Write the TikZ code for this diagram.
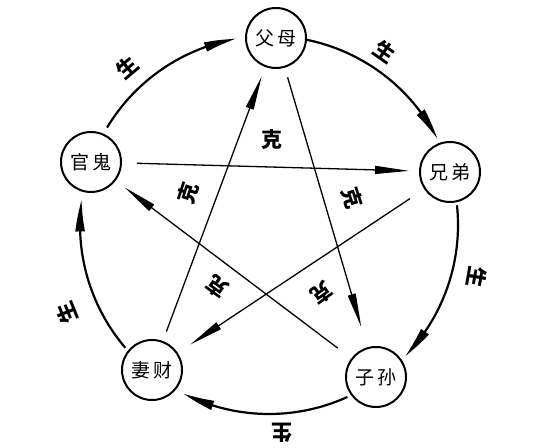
\documentclass[tikz,border=0pt]{standalone}
\usepackage{fontspec}
\newfontfamily\cjk{Noto Sans CJK SC}
\usetikzlibrary{arrows.meta,bending}
\begin{document}
\begin{tikzpicture}[x=1pt,y=1pt,
  member/.style={circle,draw,line width=2pt,minimum size=60pt,inner sep=0pt,outer sep=0pt,
    font=\cjk\fontsize{19}{19}\selectfont},
  sheng/.style={line width=2.2pt,-{Triangle[length=32pt,width=9pt,bend]}},
  ke/.style={line width=1.3pt,-{Triangle[length=34pt,width=8pt]}},
  lab/.style={font=\cjk\bfseries\fontsize{21}{21}\selectfont,inner sep=0pt}]
\fill[white] (0,0) rectangle (554,447);
\useasboundingbox (0,0) rectangle (554,447);

\coordinate (O) at (269,222);

\node[member] (fm) at (276,409) {父\hspace{3pt}母};
\node[member] (xd) at (450,275) {兄\hspace{3pt}弟};
\node[member] (zs) at (376,70) {子\hspace{3pt}孙};
\node[member] (qc) at (152,77) {妻\hspace{3pt}财};
\node[member] (gg) at (91,285) {官\hspace{3pt}鬼};

% sheng arcs (clockwise, on the great circle round O)
\draw[sheng] ([shift={(149:189)}]O) arc[start angle=149,end angle=100,radius=189];
\draw[sheng] ([shift={(78.6:189)}]O) arc[start angle=78.6,end angle=27,radius=189];
\draw[sheng] ([shift={(6:189)}]O) arc[start angle=6,end angle=-44,radius=189];
\draw[sheng] ([shift={(-65.5:189)}]O) arc[start angle=-65.5,end angle=-117,radius=189];
\draw[sheng] ([shift={(-139.5:189)}]O) arc[start angle=-139.5,end angle=-187.7,radius=189];

% ke lines (star)
\draw[ke,shorten <=16pt,shorten >=11pt] (gg) -- (xd);
\draw[ke,shorten <=11pt,shorten >=22pt] (fm) -- (zs);
\draw[ke,shorten <=18pt,shorten >=16pt] (xd) -- (qc);
\draw[ke,shorten <=18pt,shorten >=12pt] (zs) -- (gg);
\draw[ke,shorten <=11pt,shorten >=11pt] (qc) -- (fm);

% labels
\node[lab,rotate=40] (s1) at (127,380) {生};
\node[lab,rotate=-35] (s2) at (385,395) {生};
\node[lab,rotate=-100] (s3) at (477,170) {生};
\node[lab,rotate=180] (s4) at (282,14) {生};
\node[lab,rotate=112] (s5) at (67,134) {生};

\node[lab] (k1) at (272,307) {克};
\node[lab,rotate=72] (k2) at (188,254) {克};
\node[lab,rotate=-72] (k3) at (352,249) {克};
\node[lab,rotate=144] (k4) at (217,160) {克};
\node[lab,rotate=-144] (k5) at (322,154) {克};
\end{tikzpicture}
\end{document}
